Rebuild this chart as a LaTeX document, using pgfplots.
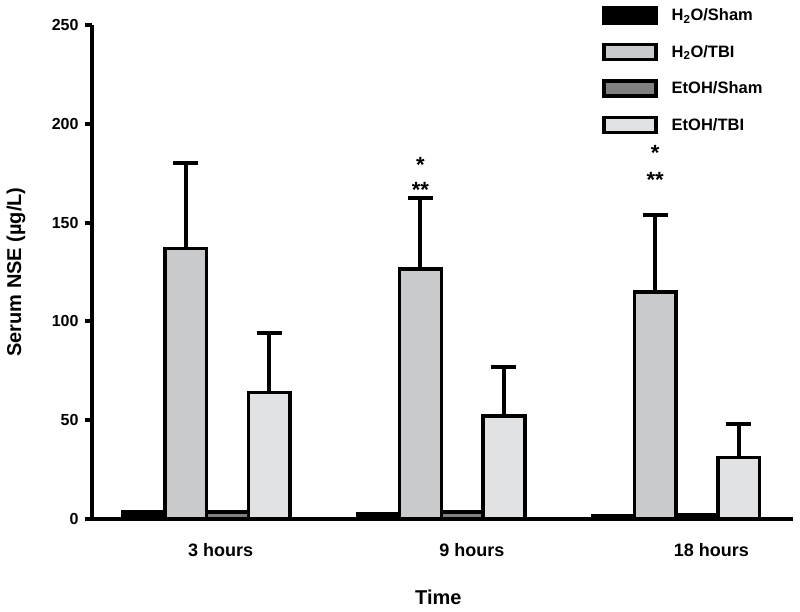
\documentclass[border=0pt]{standalone}
\usepackage{fontspec}
\setmainfont{Liberation Sans}
\usepackage{pgfplots}
\pgfplotsset{compat=1.18}
\definecolor{tbi}{RGB}{200,202,204}
\definecolor{esham}{RGB}{128,128,128}
\definecolor{etbi}{RGB}{224,226,227}
\begin{document}
\begin{tikzpicture}
\useasboundingbox (-92pt,-93pt) rectangle (708pt,519pt);
\begin{axis}[
  at={(0pt,0pt)}, anchor=south west,
  scale only axis, width=701pt, height=494pt,
  xmin=-0.4878, xmax=2.498, ymin=0, ymax=250,
  axis x line=bottom, axis y line=left,
  axis line style={line width=4.5pt,-},
  axis on top, clip=false,
  ytick={0,50,...,250},
  xtick={0.06,1.13,2.15}, xticklabels={3 hours,9 hours,18 hours},
  x tick style={draw=none},
  y tick style={line width=4pt, black},
  tick align=outside, major tick length=7pt,
  yticklabel style={font=\bfseries\fontsize{16}{19}\selectfont, xshift=-3pt},
  xticklabel style={font=\bfseries\fontsize{18}{21}\selectfont, yshift=-14pt},
  /pgf/number format/assume math mode=true,
  xlabel={Time}, ylabel={Serum NSE (µg/L)},
  label style={font=\bfseries\fontsize{20}{24}\selectfont},
  ylabel style={at={(axis description cs:-0.1084,0.5)}, anchor=center},
  xlabel style={at={(axis description cs:0.494,-0.158)}, anchor=center},
  legend style={at={(rel axis cs:0.7275,1.038)}, anchor=north west, draw=none, fill=none, inner sep=0pt, row sep=18pt,
    font=\bfseries\fontsize{16.5}{19}\selectfont,
    /tikz/every odd column/.append style={column sep=12pt}},
  legend cell align=left,
  legend image code/.code={\draw[#1,line width=3.5pt] (0pt,-7.5pt) rectangle (52pt,7.5pt);},
]
\addplot[ybar, bar width=0.1778, bar shift=0pt, fill=black, draw=black, line width=3.5pt]
  coordinates {(-0.2667,3.5) (0.7333,2.5) (1.7333,1.5)};
\addplot[ybar, bar width=0.1778, bar shift=0pt, fill=tbi, draw=black, line width=3.5pt,
  error bars/.cd, y dir=plus, y explicit,
  error bar style={line width=4pt, black},
  error mark options={rotate=90, mark size=12.5pt, line width=4pt, black}]
  coordinates {(-0.0889,137) +- (0,43) (0.9111,126.5) +- (0,36) (1.9111,115) +- (0,39)};
\addplot[ybar, bar width=0.1778, bar shift=0pt, fill=esham, draw=black, line width=3.5pt]
  coordinates {(0.0889,3.5) (1.0889,3.5) (2.0889,2)};
\addplot[ybar, bar width=0.1778, bar shift=0pt, fill=etbi, draw=black, line width=3.5pt,
  error bars/.cd, y dir=plus, y explicit,
  error bar style={line width=4pt, black},
  error mark options={rotate=90, mark size=12.5pt, line width=4pt, black}]
  coordinates {(0.2667,64) +- (0,30) (1.2667,52) +- (0,25) (2.2667,31) +- (0,17)};
\legend{H\textsubscript{2}O/Sham, H\textsubscript{2}O/TBI, EtOH/Sham, EtOH/TBI}
\node[inner sep=0pt, font=\bfseries\fontsize{22}{22}\selectfont] at (axis cs:0.911,179.1) {*};
\node[inner sep=0pt, font=\bfseries\fontsize{22}{22}\selectfont] at (axis cs:0.911,166.3) {**};
\node[inner sep=0pt, font=\bfseries\fontsize{22}{22}\selectfont] at (axis cs:1.911,185.2) {*};
\node[inner sep=0pt, font=\bfseries\fontsize{22}{22}\selectfont] at (axis cs:1.911,171.6) {**};
\end{axis}
\end{tikzpicture}
\end{document}
